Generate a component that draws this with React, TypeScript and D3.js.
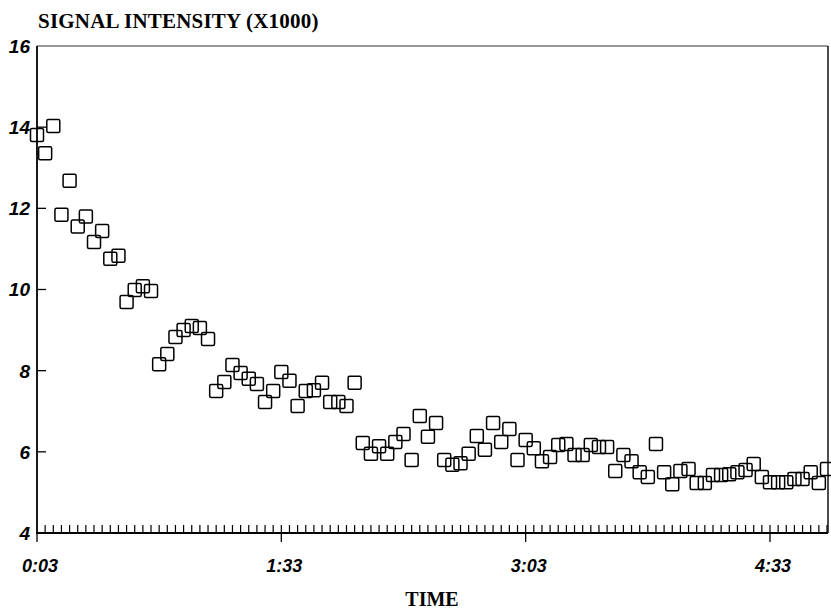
import React from "react";
import * as d3 from "d3";

const yTickValues = [4, 6, 8, 10, 12, 14, 16];
const xMajorTicks = [3, 93, 183, 273];
const xMajorLabels = ["0:03", "1:33", "3:03", "4:33"];
const sampleStep = 3; // seconds between readings
const startTime = 3;
const signal = [
  13.81, 13.36, 14.03, 11.84, 12.68, 11.55, 11.8, 11.17, 11.44, 10.76,
  10.83, 9.69, 9.99, 10.08, 9.96, 8.16, 8.41, 8.83, 9.0, 9.1,
  9.05, 8.78, 7.5, 7.72, 8.14, 7.94, 7.8, 7.67, 7.23, 7.5,
  7.97, 7.75, 7.13, 7.5, 7.52, 7.7, 7.23, 7.23, 7.13, 7.7,
  6.22, 5.95, 6.14, 5.95, 6.24, 6.44, 5.8, 6.88, 6.37, 6.71,
  5.8, 5.68, 5.72, 5.95, 6.39, 6.05, 6.71, 6.24, 6.56, 5.8,
  6.29, 6.09, 5.77, 5.87, 6.17, 6.19, 5.92, 5.92, 6.17, 6.12,
  6.12, 5.53, 5.92, 5.77, 5.5, 5.38, 6.19, 5.5, 5.2, 5.53,
  5.58, 5.23, 5.23, 5.43, 5.43, 5.45, 5.5, 5.55, 5.7, 5.38,
  5.25, 5.25, 5.25, 5.33, 5.33, 5.5, 5.23, 5.58,
];
const times = signal.map((_, i) => startTime + i * sampleStep);

const W = 831;
const H = 611;
const left = 37;
const right = 827;
const top = 46;
const bottom = 533;

export default function App() {
  const x = d3.scaleLinear().domain([3, 294]).range([left, right]);
  const y = d3.scaleLinear().domain([4, 16]).range([bottom, top]);
  const sq = 13;
  const sansItalic = "'Liberation Sans', Arial, sans-serif";
  const serif = "'Liberation Serif', 'Times New Roman', serif";

  return (
    <svg
      width={W}
      height={H}
      style={{ position: "absolute", left: 0, top: 0, display: "block", background: "#fff" }}
    >
      <rect x={0} y={0} width={W} height={H} fill="#fff" />
      <text x={38} y={28} fontFamily={serif} fontWeight="bold" fontSize={21} fill="#000" letterSpacing={0.2}>
        SIGNAL INTENSITY (X1000)
      </text>

      {/* frame */}
      <line x1={left} y1={top} x2={right + 1} y2={top} stroke="#333" strokeWidth={1.2} />
      <line x1={right + 1} y1={top} x2={right + 1} y2={bottom} stroke="#111" strokeWidth={1.5} />
      <line x1={left} y1={top} x2={left} y2={bottom + 1} stroke="#000" strokeWidth={1.8} />
      <line x1={left} y1={bottom} x2={right + 1} y2={bottom} stroke="#000" strokeWidth={1.8} />

      {/* y ticks */}
      {yTickValues.map((v) => (
        <g key={"y" + v}>
          {v > 4 && v < 16 && (
            <line x1={left} x2={left + 9} y1={y(v)} y2={y(v)} stroke="#000" strokeWidth={1.3} />
          )}
          <text
            x={30}
            y={y(v)}
            dy="0.36em"
            textAnchor="end"
            fontFamily={sansItalic}
            fontWeight="bold"
            fontStyle="italic"
            fontSize={19}
            fill="#000"
          >
            {v}
          </text>
        </g>
      ))}

      {/* minor x ticks at every reading */}
      {times.slice(1).map((t) => (
        <line key={"m" + t} x1={x(t)} x2={x(t)} y1={bottom} y2={bottom - 8} stroke="#000" strokeWidth={1.2} />
      ))}

      {/* major x ticks */}
      {xMajorTicks.map((t, i) => (
        <g key={"x" + t}>
          <line x1={x(t)} x2={x(t)} y1={bottom} y2={bottom + 9} stroke="#000" strokeWidth={1.3} />
          <text
            x={x(t) + 3}
            y={572}
            textAnchor="middle"
            fontFamily={sansItalic}
            fontWeight="bold"
            fontStyle="italic"
            fontSize={18}
            fill="#000"
          >
            {xMajorLabels[i]}
          </text>
        </g>
      ))}

      {/* points */}
      {signal.map((v, i) => (
        <rect
          key={"p" + i}
          x={x(times[i]) - sq / 2}
          y={y(v) - sq / 2}
          width={sq}
          height={sq}
          rx={1.5}
          fill="none"
          stroke="#000"
          strokeWidth={1.5}
        />
      ))}

      <text x={432} y={606} textAnchor="middle" fontFamily={serif} fontWeight="bold" fontSize={20} fill="#000">
        TIME
      </text>
    </svg>
  );
}
